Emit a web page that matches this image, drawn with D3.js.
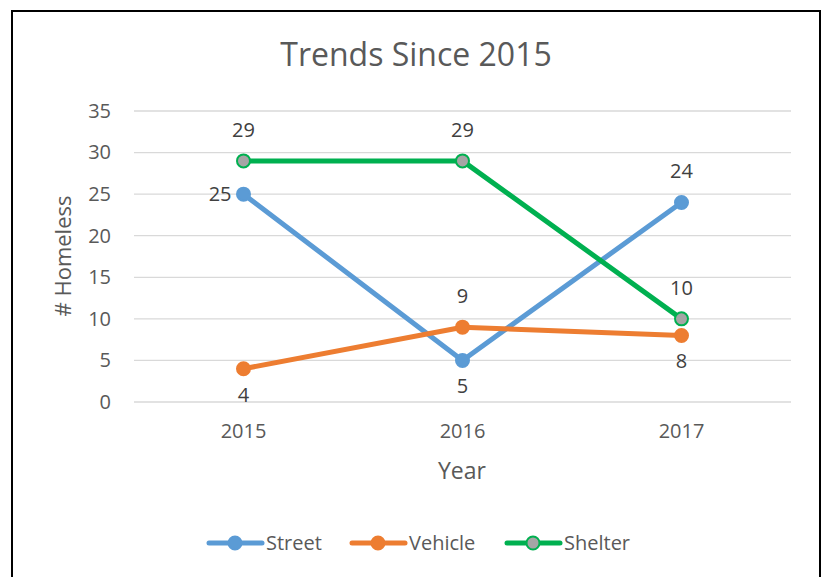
<!DOCTYPE html>
<meta charset="utf-8">
<style>
    body { margin: 0; background: #fff; }
    svg text { font-family: "Open Sans", sans-serif; }
    .label text { fill: #404040; font-size: 20px; }
</style>
<svg width="827" height="577"></svg>
<script src="https://d3js.org/d3.v7.min.js"></script>
<script>
    var years = ["2015", "2016", "2017"];
    var street = [25, 5, 24];
    var vehicle = [4, 9, 8];
    var shelter = [29, 29, 10];
    var yTicks = [0, 5, 10, 15, 20, 25, 30, 35];

    var series = [
        {name: "Street", values: street, color: "#5B9BD5", fill: "#5B9BD5", pos: ["left", "below", "above"]},
        {name: "Vehicle", values: vehicle, color: "#ED7D31", fill: "#ED7D31", pos: ["below", "above", "below"]},
        {name: "Shelter", values: shelter, color: "#00B050", fill: "#A5A5A5", pos: ["above", "above", "above"]}
    ];

    var svg = d3.select("svg");

    // chart border
    svg.append("rect")
        .attr("x", 12).attr("y", 11)
        .attr("width", 808).attr("height", 580)
        .attr("fill", "none").attr("stroke", "#000").attr("stroke-width", 2);

    var x = d3.scaleBand().domain(years).range([134, 791]);
    var y = d3.scaleLinear().domain([0, 35]).range([402, 111]);

    // grid
    svg.append("g").selectAll("line")
        .data(yTicks).enter().append("line")
        .attr("x1", 134).attr("x2", 791)
        .attr("y1", function(d) { return y(d); })
        .attr("y2", function(d) { return y(d); })
        .attr("stroke", "#d9d9d9").attr("stroke-width", 1.3);

    var yAxis = svg.append("g")
        .attr("transform", "translate(134,0)")
        .call(d3.axisLeft(y).tickValues(yTicks).tickSize(0).tickPadding(23));
    yAxis.select(".domain").remove();

    var xAxis = svg.append("g")
        .attr("transform", "translate(0,402)")
        .call(d3.axisBottom(x).tickSize(0).tickPadding(22));
    xAxis.select(".domain").remove();
    svg.selectAll(".tick text")
        .attr("fill", "#595959")
        .style("font-family", "'Open Sans', sans-serif")
        .style("font-size", "20px");

    // title and axis titles
    svg.append("text")
        .attr("x", 416).attr("y", 66)
        .attr("text-anchor", "middle")
        .attr("fill", "#595959").style("font-size", "32px")
        .text("Trends Since 2015");

    svg.append("text")
        .attr("x", 462).attr("y", 479)
        .attr("text-anchor", "middle")
        .attr("fill", "#595959").style("font-size", "23px")
        .text("Year");

    svg.append("text")
        .attr("transform", "translate(71,256) rotate(-90)")
        .attr("text-anchor", "middle")
        .attr("fill", "#595959").style("font-size", "22px")
        .text("# Homeless");

    var line = d3.line()
        .x(function(d, i) { return x(years[i]) + x.bandwidth() / 2; })
        .y(function(d) { return y(d); });

    series.forEach(function(s) {
        var g = svg.append("g");
        g.append("path")
            .attr("d", line(s.values))
            .attr("fill", "none")
            .attr("stroke", s.color)
            .attr("stroke-width", 5)
            .attr("stroke-linecap", "round")
            .attr("stroke-linejoin", "round");
        g.selectAll("circle")
            .data(s.values).enter().append("circle")
            .attr("cx", function(d, i) { return x(years[i]) + x.bandwidth() / 2; })
            .attr("cy", function(d) { return y(d); })
            .attr("r", 6.5)
            .attr("fill", s.fill)
            .attr("stroke", s.color)
            .attr("stroke-width", 2);
    });

    series.forEach(function(s) {
        var g = svg.append("g").attr("class", "label");
        g.selectAll("text")
            .data(s.values).enter().append("text")
            .attr("x", function(d, i) {
                var cx = x(years[i]) + x.bandwidth() / 2;
                return s.pos[i] === "left" ? cx - 12 : cx;
            })
            .attr("y", function(d, i) {
                var cy = y(d);
                if (s.pos[i] === "above") return cy - 24;
                if (s.pos[i] === "below") return cy + 33;
                return cy + 7;
            })
            .attr("text-anchor", function(d, i) { return s.pos[i] === "left" ? "end" : "middle"; })
            .text(function(d) { return d; });
    });

    // legend
    var legendX = [207, 350, 505];
    var legend = svg.append("g").selectAll("g")
        .data(series).enter().append("g")
        .attr("transform", function(d, i) { return "translate(" + legendX[i] + ",543)"; });
    legend.append("line")
        .attr("x1", 2).attr("x2", 55)
        .attr("stroke", function(d) { return d.color; })
        .attr("stroke-width", 5).attr("stroke-linecap", "round");
    legend.append("circle")
        .attr("cx", 28).attr("r", 6.5)
        .attr("fill", function(d) { return d.fill; })
        .attr("stroke", function(d) { return d.color; })
        .attr("stroke-width", 2);
    legend.append("text")
        .attr("x", 59).attr("y", 7)
        .attr("fill", "#595959").style("font-size", "20px")
        .text(function(d) { return d.name; });
</script>
